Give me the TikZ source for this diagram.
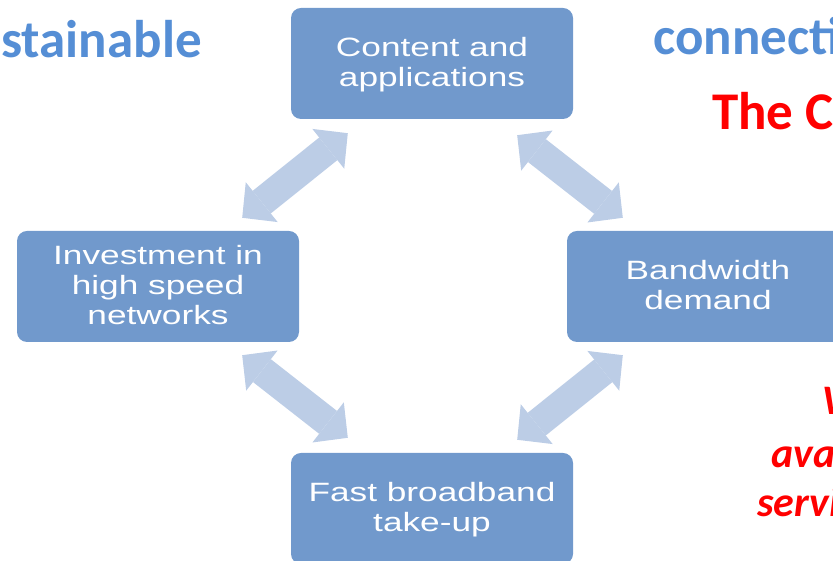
\documentclass[tikz,border=0pt]{standalone}
\usepackage{fontspec}
\usepackage{xcolor}
\usepackage{tikz}
\usetikzlibrary{arrows.meta,calc,positioning}
\definecolor{boxblue}{HTML}{7199CC}
\definecolor{arrowblue}{HTML}{BCCDE6}
\definecolor{headblue}{HTML}{558ED5}
\definecolor{notered}{HTML}{FF0000}
\newfontfamily\boxfont[FakeStretch=1.33]{Liberation Sans}
\newfontfamily\slidefont{Carlito}

\begin{document}
\begin{tikzpicture}[x=1pt, y=1pt]
      \clip (0,0) rectangle (833,561);

      \begin{scope}[every node/.style={rectangle, rounded corners=10pt, fill=boxblue,
                    minimum width=282pt, minimum height=111pt, inner sep=0pt,
                    align=center, text=white,
                    font=\boxfont\fontsize{26.5}{30}\selectfont}]
          \node (cont) at (432,497.5) {Content and\\applications\\[-26pt]};
          \node (inv) at (158,274.5) {Investment in\\high speed\\networks\\[-26pt]};
          \node (band) at (708,274.5) {Bandwidth\\demand\\[-26pt]};
          \node (fast) at (432,52.5) {Fast broadband\\take-up\\[-26pt]};
      \end{scope}

      \coordinate (tl1) at ($(inv.north east)+(-57,13)$);
      \coordinate (tl2) at ($(cont.south west)+(57,-14)$);
      \coordinate (tr1) at ($(cont.south east)+(-56,-16)$);
      \coordinate (tr2) at ($(band.north west)+(56,13)$);
      \coordinate (bl1) at ($(inv.south east)+(-57,-13)$);
      \coordinate (bl2) at ($(fast.north west)+(57,15)$);
      \coordinate (br1) at ($(fast.north east)+(-56,13)$);
      \coordinate (br2) at ($(band.south west)+(56,-13)$);

      \begin{scope}[every path/.style={draw=arrowblue, line width=29pt,
                    {Triangle[length=25pt, width=51pt, line width=0pt, fill=arrowblue]}-{Triangle[length=25pt, width=51pt, line width=0pt, fill=arrowblue]}}]
        \path (tl1) -- (tl2);
        \path (tr1) -- (tr2);
        \path (bl1) -- (bl2);
        \path (br1) -- (br2);
      \end{scope}

      \begin{scope}[every node/.style={anchor=base west, inner sep=0pt}]
        \node[text=headblue, font=\slidefont\bfseries\fontsize{53}{60}\selectfont] (sust) at (1,503) {stainable};
        \node[text=headblue, font=\slidefont\bfseries\fontsize{53}{60}\selectfont] (conn) at (653,506) {connecti};
        \node[text=notered, font=\slidefont\bfseries\fontsize{53}{60}\selectfont] (thec) at (712,431) {The C};
        \node[text=notered, font=\slidefont\bfseries\itshape\fontsize{42}{50}\selectfont] (w) at (822,146) {W};
        \node[text=notered, font=\slidefont\bfseries\itshape\fontsize{42}{50}\selectfont] (ava) at (771,93) {ava};
        \node[text=notered, font=\slidefont\bfseries\itshape\fontsize{42}{50}\selectfont] (serv) at (757,44) {servi};
      \end{scope}
\end{tikzpicture}
\end{document}
